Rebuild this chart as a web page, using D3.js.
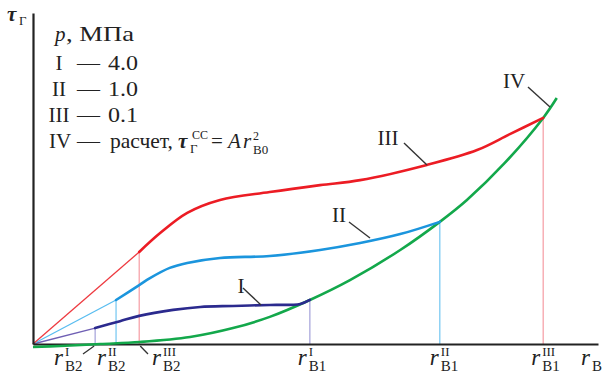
<!DOCTYPE html>
<html>
<head>
<meta charset="utf-8">
<script src="https://cdn.jsdelivr.net/npm/d3@7"></script>
<style>
  body { margin: 0; background: #fff; }
</style>
</head>
<body>
<div id="chart"></div>
<script>
// curve data, arbitrary units (x: r_B, y: tau_G)
var seriesI   = [[11.0,4.8],[15.4,6.9],[18.8,8.5],[24.8,10.3],[29.6,11.2],[35.4,11.5],[41.9,11.8],[47.3,12.1],[49.0,13.3]];
var seriesII  = [[14.7,13.3],[18.8,17.8],[20.7,19.9],[24.2,23.0],[27.3,24.5],[33.1,26.0],[41.9,26.6],[50.8,28.4],[57.9,30.5],[65.0,33.2],[72.0,36.9]];
var seriesIII = [[18.8,27.8],[22.5,33.5],[27.3,39.6],[33.1,43.5],[41.9,45.9],[50.8,48.0],[57.9,49.5],[69.7,54.1],[78.6,58.6],[84.4,63.4],[90.3,68.3]];
var seriesIV  = [[0,-0.9],[4.8,-0.6],[11.9,0],[18.9,0.6],[27.8,2.1],[35.4,4.8],[41.9,8.2],[49.0,13.3],[56.1,19.3],[65.0,28.4],[72.0,36.9],[76.8,43.5],[83.5,54.7],[90.3,68.3],[92.7,74.3]];

var curveNames = ["I", "II", "III"];
var pressures  = ["4.0", "1.0", "0.1"];

var colors = {
	I:   { main: "#2b2a8e", thin: "#6f5fb4", drop: "#aaa8dc" },
	II:  { main: "#1b95dd", thin: "#59bdf0", drop: "#7dcaf2" },
	III: { main: "#ec1c24", thin: "#ee3a40", drop: "#f6a3aa" },
	IV:  { main: "#13a84b" }
};

var W = 603, H = 383;
var FONT = "'Liberation Serif', 'DejaVu Serif', serif";

var x = d3.scaleLinear().domain([0, 100]).range([33, 598]);
var y = d3.scaleLinear().domain([0, 100]).range([344, 13]);

var svg = d3.select("#chart").append("svg")
	.attr("width", W)
	.attr("height", H)
	.attr("font-family", FONT);

var line = d3.line()
	.x(function(d) { return x(d[0]); })
	.y(function(d) { return y(d[1]); })
	.curve(d3.curveCatmullRom.alpha(0.5));

var series = { I: seriesI, II: seriesII, III: seriesIII };

// vertical drop lines at r_B2 and r_B1
curveNames.forEach(function(n) {
	var s = series[n];
	[s[0], s[s.length - 1]].forEach(function(p) {
		svg.append("line")
			.attr("x1", x(p[0])).attr("x2", x(p[0]))
			.attr("y1", y(p[1])).attr("y2", y(0))
			.style("stroke", colors[n].drop)
			.style("stroke-width", 1.3);
	});
});

// thin linear part from the origin
curveNames.forEach(function(n) {
	var s = series[n];
	svg.append("line")
		.attr("x1", x(0)).attr("y1", y(0))
		.attr("x2", x(s[0][0])).attr("y2", y(s[0][1]))
		.style("stroke", colors[n].thin)
		.style("stroke-width", 1.3);
});

// axes
var xAxis = d3.axisBottom(x).tickValues([]).tickSizeOuter(0);
var yAxis = d3.axisLeft(y).tickValues([]).tickSizeOuter(0);
svg.append("g").attr("transform", "translate(0," + y(0) + ")").call(xAxis)
	.select(".domain").style("stroke", "#222").style("stroke-width", 2.2);
svg.append("g").attr("transform", "translate(" + x(0) + ",0)").call(yAxis)
	.select(".domain").style("stroke", "#222").style("stroke-width", 2.2);

// curve IV (calculation)
svg.append("path")
	.datum(seriesIV)
	.attr("d", line)
	.style("fill", "none")
	.style("stroke", colors.IV.main)
	.style("stroke-width", 2.6);

// curves I - III
curveNames.forEach(function(n) {
	svg.append("path")
		.datum(series[n])
		.attr("d", line)
		.style("fill", "none")
		.style("stroke", colors[n].main)
		.style("stroke-width", 2.6)
		.style("stroke-linecap", "round");
});

function txt(px, py, size, s) {
	return svg.append("text")
		.attr("x", px).attr("y", py)
		.attr("font-family", FONT)
		.attr("font-size", size)
		.attr("fill", "#222")
		.text(s);
}

// curve labels with leaders
var leaders = [
	{ t: "I",   tx: 241, ty: 293, x1: 243, y1: 288, x2: 261, y2: 305 },
	{ t: "II",  tx: 339, ty: 222, x1: 349, y1: 222, x2: 370, y2: 238 },
	{ t: "III", tx: 388, ty: 145, x1: 404, y1: 143, x2: 427, y2: 165 },
	{ t: "IV",  tx: 514, ty: 88,  x1: 528, y1: 87,  x2: 550, y2: 107 }
];
leaders.forEach(function(l) {
	svg.append("line")
		.attr("x1", l.x1).attr("y1", l.y1).attr("x2", l.x2).attr("y2", l.y2)
		.style("stroke", "#333").style("stroke-width", 1.4);
	txt(l.tx, l.ty, 21, l.t).attr("text-anchor", "middle");
});

// r label: italic r with sup / sub
function rLabel(px, py, sup, sub) {
	txt(px, py, 23, "r").attr("font-style", "italic");
	if (sup) txt(px + 11, py - 9, 13, sup);
	txt(px + 11, py + 6, 15, sub);
}

var rB2LabelX = [54, 97, 152];
var rB1LabelDx = [-12, -10, -12];
curveNames.forEach(function(n, i) {
	var s = series[n];
	rLabel(rB2LabelX[i], 365, n, "B2");
	rLabel(x(s[s.length - 1][0]) + rB1LabelDx[i], 365, n, "B1");
});
rLabel(581, 365, null, "B");

// small leaders for r_B2^I and r_B2^III
svg.append("line").attr("x1", x(seriesI[0][0]) - 1).attr("y1", y(0) + 2).attr("x2", 83).attr("y2", 354)
	.style("stroke", "#333").style("stroke-width", 1.3);
svg.append("line").attr("x1", x(seriesIII[0][0]) + 1).attr("y1", y(0) + 2).attr("x2", 148).attr("y2", 354)
	.style("stroke", "#333").style("stroke-width", 1.3);

// y axis label
txt(7, 21, 21, "τ").attr("font-style", "italic").attr("font-weight", "bold");
txt(19, 25, 13, "Г");

// legend
txt(55, 41, 21, "p").attr("font-style", "italic");
txt(66, 41, 21, ", МПа").attr("textLength", 68).attr("lengthAdjust", "spacingAndGlyphs");
var legBase = [70, 96, 122];
curveNames.forEach(function(n, i) {
	txt(59, legBase[i], 21, n).attr("text-anchor", "middle");
	txt(77, legBase[i], 21, "—").attr("textLength", 23).attr("lengthAdjust", "spacingAndGlyphs");
	txt(108, legBase[i], 21, pressures[i]).attr("textLength", 30).attr("lengthAdjust", "spacingAndGlyphs");
});
txt(60, 148, 21, "IV").attr("text-anchor", "middle");
txt(77, 148, 21, "—").attr("textLength", 23).attr("lengthAdjust", "spacingAndGlyphs");
txt(110, 148, 21, "расчет,").attr("textLength", 63).attr("lengthAdjust", "spacingAndGlyphs");
txt(178, 148, 21, "τ").attr("font-style", "italic").attr("font-weight", "bold");
txt(190, 153, 13, "Г");
txt(192, 139, 12, "CC");
txt(211, 148, 21, "=");
txt(228, 148, 21, "A").attr("font-style", "italic");
txt(243, 148, 21, "r").attr("font-style", "italic");
txt(253, 140, 12, "2");
txt(253, 154, 13, "B0");
</script>
</body>
</html>
